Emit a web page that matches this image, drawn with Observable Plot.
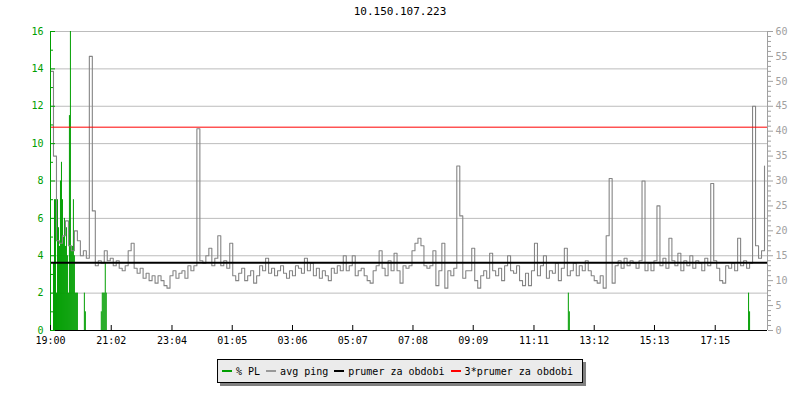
<!DOCTYPE html>
<html><head><meta charset="utf-8">
<script src="https://cdn.jsdelivr.net/npm/d3@7"></script>
<script src="https://cdn.jsdelivr.net/npm/@observablehq/plot@0.6"></script>
<style>
body{margin:0;background:#fff;font-family:"DejaVu Sans Mono",monospace;}
#wrap{width:800px;height:400px;position:relative;overflow:hidden;}
#title{height:24px;text-align:center;font-size:11px;line-height:24px;color:#000;}
#chart svg{display:block;}
#legend{position:absolute;left:50%;transform:translateX(-50%);top:359px;height:22px;border:1px solid #000;background:#ebebeb;box-shadow:3px 3px 0 #808080;display:flex;align-items:center;padding:0 9px 0 4px;font-size:10px;white-space:nowrap;color:#000;}
.it{display:flex;align-items:center;margin-right:6px;}
.it:last-child{margin-right:0;}
.sw{display:inline-block;width:10px;height:2px;margin-right:4px;}
</style></head><body>
<div id="wrap"><div id="title">10.150.107.223</div><div id="chart"></div><div id="legend"></div></div>
<script>
// ---- data ----
const titleText = "10.150.107.223";
const stepMinutes = 6; // ping sample step, minutes from 19:00
const pingValues = [
  52, 35, 18, 17.5, 19, 22, 17, 16, 20, 18, 15, 16, 14.5, 55, 24, 13, 14, 13.5, 16, 14,
  14.5, 13, 14, 12.5, 12, 13, 16, 17.5, 12.5, 11.5, 12.5, 10.5, 11.5, 10, 11, 9.5, 11, 10, 9, 8.5,
  11, 12, 10.5, 11.5, 12, 10.5, 13, 12, 13, 40.5, 14, 13.5, 15, 16.5, 13, 14.5, 19, 13, 14, 12.5,
  17.5, 11, 10, 11.5, 12.5, 10, 11, 12, 9.5, 11, 13, 12, 14.5, 11.5, 12.5, 11, 12, 13, 11.5, 10.5,
  12, 11, 13, 12.5, 11.5, 14.5, 12, 13.5, 11, 12.5, 10.5, 12, 11, 10, 12.5, 11.5, 13, 12, 15, 12,
  13, 15, 11, 12, 12.5, 11, 10, 9.5, 12, 13, 16, 12.5, 11, 14, 12, 15.5, 12, 9.5, 13, 12.5,
  13, 16, 17.5, 18.5, 17, 13, 12.5, 13, 16, 9, 12, 17.5, 8.5, 12, 11, 12.5, 33, 23, 10.5, 12,
  12, 16.5, 10, 8.5, 11, 12, 10.5, 15.5, 12, 11, 12.5, 10, 13, 15, 12, 11.5, 13, 10, 9, 11.5,
  9, 12, 17.5, 11, 13, 15, 10.5, 12, 11.5, 13.5, 10, 12.5, 16.5, 11, 12, 13.5, 11, 13, 12, 14,
  12, 11, 10, 9.5, 11, 8.5, 19, 30.5, 9.5, 13, 14, 12.5, 14.5, 13, 14, 13.5, 12.5, 14, 30, 12,
  13.5, 12, 14, 25, 13, 14.5, 12.5, 18.5, 14, 13, 15.5, 12, 14, 13, 15, 12.5, 14, 13.5, 12, 14.5,
  13, 29.5, 14, 12.5, 10, 9.5, 13, 12.5, 13.5, 12, 18.5, 13, 14, 12.5, 13.5, 45, 17, 14.5, 16, 33
];
const plMinutes = [6,8,10,12,14,16,18,20,22,24,26,28,30,32,34,36,38,40,42,44,46,48,50,52,54, 68,70, 102,104,106,108,110,112, 1040,1042, 1402,1404];
const plValues  = [3.6,7,7,2,7,5.5,4.5,8,9,7,5,6,4.5,5.5,4,2,11.5,16,4.5,4.5,7,4,2,2,2, 2,1, 1,2,2,2,3.6,2, 2,1, 2,1];
const plBinMinutes = 2;
const tickLabels = ["19:00","21:02","23:04","01:05","03:06","05:07","07:08","09:09","11:11","13:12","15:13","17:15"];
const leftTicks = [0,2,4,6,8,10,12,14,16];
const rightTicks = [0,5,10,15,20,25,30,35,40,45,50,55,60];
const prumer = 13.6;
const seriesNames = ["% PL","avg ping","prumer za obdobi","3*prumer za obdobi"];
const seriesColors = ["#009e00","#999999","#000000","#ff0000"];

// ---- build ----
const k = 16 / 60; // right-axis (ms) to left-axis (%) factor
const ping = pingValues.map((v, i) => ({m: i * stepMinutes, v}));
const pl = plMinutes.map((m, i) => ({m, v: plValues[i]}));
const startMin = 19 * 60;
const tickMinutes = tickLabels.map(s => {
  const [h, mm] = s.split(":").map(Number);
  return ((h * 60 + mm) - startMin + 1440) % 1440;
});
const leftMinor = d3.range(0, 17).filter(v => v % 2 === 1);
const rightMinor = d3.range(0, 61).filter(v => v % 5 !== 0);
const W = 800, H = 330, mL = 50, mR = 33, mT = 7, mB = 24;
const plotW = W - mL - mR, plotH = H - mT - mB;
const [cPL, cPing, cMean, cMean3] = seriesColors;

const chart = Plot.plot({
  width: W, height: H, marginLeft: mL, marginRight: mR, marginTop: mT, marginBottom: mB,
  style: {fontFamily: "'DejaVu Sans Mono', monospace", fontSize: "10px", background: "white", overflow: "visible"},
  x: {domain: [0, 1440], axis: null},
  y: {domain: [0, 16], axis: null},
  marks: [
    Plot.ruleY(leftTicks.filter(v => v > 0), {y: d => d, stroke: "#bcbcbc", strokeWidth: 1}),
    Plot.rect(pl, {x1: "m", x2: d => d.m + plBinMinutes, y1: 0, y2: "v", fill: cPL}),
    Plot.line(ping, {x: "m", y: d => d.v * k, stroke: "#858585", strokeWidth: 1.1, curve: "step-after"}),
    Plot.ruleY([prumer * k], {stroke: cMean, strokeWidth: 2}),
    Plot.ruleY([3 * prumer * k], {stroke: cMean3, strokeWidth: 1}),
    Plot.ruleX([0], {stroke: cPL, strokeWidth: 1}),
    Plot.ruleX([1440], {stroke: "#a0a0a0", strokeWidth: 1}),
    Plot.ruleY([0], {stroke: "black", strokeWidth: 1}),
    Plot.tickY(leftTicks, {y: d => d, stroke: cPL, insetRight: plotW - 5}),
    Plot.tickY(leftMinor, {y: d => d, stroke: cPL, insetRight: plotW - 3}),
    Plot.axisY(leftTicks, {anchor: "left", tickSize: 0, tickPadding: 7, color: cPL, label: null}),
    Plot.axisY(rightTicks.map(v => v * k), {anchor: "right", tickSize: 5, tickPadding: 3, color: "#a0a0a0", label: null,
      tickFormat: d => String(Math.round(d / k))}),
    Plot.axisY(rightMinor.map(v => v * k), {anchor: "right", tickSize: 3, color: "#a0a0a0", label: null, tickFormat: () => ""}),
    Plot.tickX(tickMinutes, {x: d => d, stroke: "black", insetTop: plotH - 5}),
    Plot.axisX(tickMinutes, {anchor: "bottom", tickSize: 0, tickPadding: 6, color: "black", label: null,
      tickFormat: d => tickLabels[tickMinutes.indexOf(d)]})
  ]
});
document.getElementById("title").textContent = titleText;
document.getElementById("chart").append(chart);

const legend = document.getElementById("legend");
seriesNames.forEach((name, i) => {
  const it = document.createElement("span"); it.className = "it";
  const sw = document.createElement("span"); sw.className = "sw"; sw.style.background = seriesColors[i];
  const tx = document.createElement("span"); tx.textContent = name;
  it.append(sw, tx); legend.append(it);
});
</script>
</body></html>
